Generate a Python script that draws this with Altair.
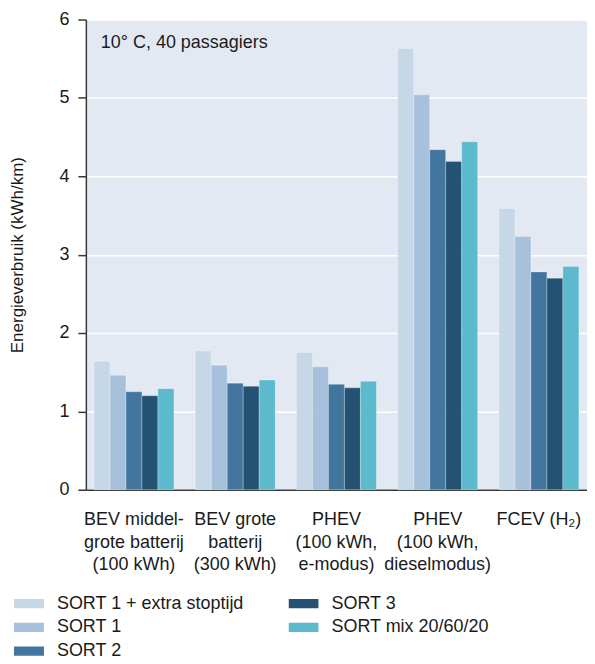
import altair as alt
import pandas as pd

FONT = "Liberation Sans"

groups = [
    "BEV middel-|grote batterij|(100 kWh)",
    "BEV grote|batterij|(300 kWh)",
    "PHEV|(100 kWh,|e-modus)",
    "PHEV|(100 kWh,|dieselmodus)",
    "FCEV (H₂)",
]
series = ["SORT 1 + extra stoptijd", "SORT 1", "SORT 2", "SORT 3", "SORT mix 20/60/20"]
colors = ["#c6d7e7", "#a7c1dc", "#43769f", "#245272", "#5db9cc"]

sort1_extra = [1.64, 1.77, 1.75, 5.63, 3.59]
sort1 = [1.46, 1.59, 1.57, 5.04, 3.23]
sort2 = [1.25, 1.36, 1.345, 4.34, 2.78]
sort3 = [1.20, 1.32, 1.30, 4.19, 2.70]
sort_mix = [1.29, 1.40, 1.385, 4.44, 2.85]

note = "10° C, 40 passagiers"

rows = []
for name, vals in zip(series, [sort1_extra, sort1, sort2, sort3, sort_mix]):
    for g, v in zip(groups, vals):
        rows.append({"groep": g, "reeks": name, "waarde": v})
df = pd.DataFrame(rows)

bars = alt.Chart(df).mark_bar(stroke="white", strokeOpacity=0.35, strokeWidth=0.8).encode(
    alt.X("groep:N", sort=groups)
    .scale(paddingInner=0.21, paddingOuter=0.08)
    .axis(
        labelExpr="split(datum.label, '|')",
        labelAngle=0,
        ticks=False,
        labelPadding=21,
        labelLineHeight=22.5,
        labelFontSize=18,
        labelColor="#1a1a1a",
        domainColor="#3a3a3a",
        domainWidth=1.5,
        grid=False,
    )
    .title(None),
    alt.XOffset("reeks:N", sort=series).scale(paddingInner=0, paddingOuter=0),
    alt.Y("waarde:Q")
    .scale(domain=[0, 6])
    .axis(
        values=[0, 1, 2, 3, 4, 5, 6],
        tickSize=8,
        tickColor="#3a3a3a",
        tickWidth=1.5,
        labelPadding=9,
        labelFontSize=18,
        labelColor="#1a1a1a",
        domainColor="#3a3a3a",
        domainWidth=1.5,
        gridColor="white",
        gridWidth=1.5,
        titleFontSize=17,
        titleFontWeight="normal",
        titleColor="#1a1a1a",
        titlePadding=32,
    )
    .title("Energieverbruik (kWh/km)"),
    alt.Color("reeks:N")
    .scale(domain=series, range=colors)
    .legend(
        title=None,
        orient="none",
        legendX=-72,
        legendY=576,
        padding=0,
        columns=2,
        symbolType="M-1,-0.31H1V0.31H-1Z",
        symbolSize=900,
        symbolStrokeWidth=0,
        labelFontSize=18,
        labelColor="#1a1a1a",
        labelOffset=13,
        labelLimit=260,
        clipHeight=18,
        rowPadding=5.8,
        columnPadding=44,
    ),
)

text = alt.Chart(pd.DataFrame({"note": [note]})).mark_text(
    align="left", baseline="alphabetic", fontSize=18, color="#1a1a1a", font=FONT
).encode(x=alt.value(15), y=alt.value(29), text="note:N")

chart = (
    alt.layer(bars, text)
    .properties(width=502, height=471, padding={"left": 0, "top": 2, "right": 0, "bottom": 0})
    .configure(font=FONT)
    .configure_view(fill="#e3e9f3", strokeWidth=0)
)

chart.save("out.html", embed_options={"renderer": "svg", "actions": False})
